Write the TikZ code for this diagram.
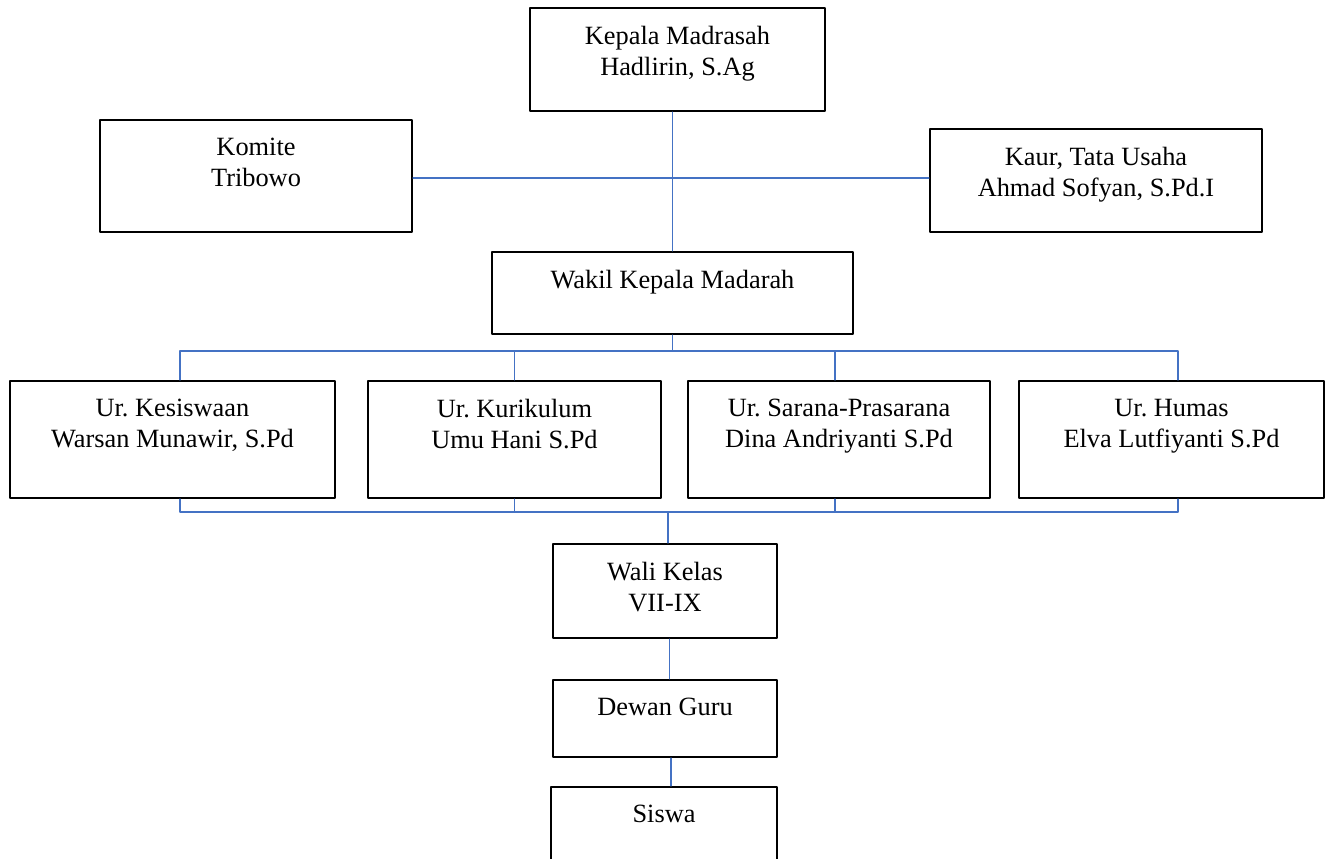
\documentclass[tikz,border=0pt]{standalone}
\usepackage{fontspec}
\setmainfont{Liberation Serif}
\frenchspacing
\definecolor{garisbiru}{RGB}{68,114,196}

\begin{document}
\begin{tikzpicture}[line cap=round,line join=round,x=1.0cm,y=1.0cm,
	kotak/.style={draw=black,line width=1.3pt,inner sep=0pt},
	isi/.style={label={[anchor=north,align=center,inner sep=0pt,yshift=-0.375cm,font=\fontsize{15pt}{17.6pt}\selectfont]north:{#1}}},
	garis/.style={draw=garisbiru,line width=0.8pt}]
		\useasboundingbox (0,0) rectangle (26.64,-17.16);
		% pimpinan
		\node[kotak,minimum width=5.9cm,minimum height=2.06cm,isi={Kepala Madrasah\\Hadlirin, S.Ag}] (kepala) at (13.55,-1.19) {};
		\node[kotak,minimum width=6.24cm,minimum height=2.24cm,isi={Komite\\Tribowo}] (komite) at (5.12,-3.52) {};
		\node[kotak,minimum width=6.64cm,minimum height=2.06cm,isi={Kaur, Tata Usaha\\Ahmad Sofyan, S.Pd.I}] (kaur) at (21.92,-3.61) {};
		\node[kotak,minimum width=7.22cm,minimum height=1.64cm,isi={Wakil Kepala Madarah}] (wakil) at (13.45,-5.86) {};
		% urusan
		\node[kotak,minimum width=6.5cm,minimum height=2.34cm,isi={Ur. Kesiswaan\\Warsan Munawir, S.Pd}] (kesiswaan) at (3.45,-8.79) {};
		\node[kotak,minimum width=5.86cm,minimum height=2.34cm,isi={Ur. Kurikulum\\Umu Hani S.Pd}] (kurikulum) at (10.29,-8.79) {};
		\node[kotak,minimum width=6.04cm,minimum height=2.34cm,isi={Ur. Sarana-Prasarana\\Dina Andriyanti S.Pd}] (sarana) at (16.78,-8.79) {};
		\node[kotak,minimum width=6.1cm,minimum height=2.34cm,isi={Ur. Humas\\Elva Lutfiyanti S.Pd}] (humas) at (23.43,-8.79) {};
		% bawah
		\node[kotak,minimum width=4.48cm,minimum height=1.88cm,isi={Wali Kelas\\VII-IX}] (wali) at (13.3,-11.82) {};
		\node[kotak,minimum width=4.48cm,minimum height=1.54cm,isi={Dewan Guru}] (dewan) at (13.3,-14.37) {};
		\node[kotak,minimum width=4.52cm,minimum height=1.7cm,isi={Siswa}] (siswa) at (13.28,-16.59) {};
		\coordinate (busatas) at (13.45,-7.02);
		\coordinate (busbawah) at (13.36,-10.24);
		% garis
		\draw[garis] (kepala.south -| wakil.north) -- (wakil.north);
		\draw[garis] ([yshift=-0.04cm]komite.east) -- ([yshift=-0.04cm]kaur.west |- komite.east);
		\draw[garis] (wakil.south) -- (busatas);
		\draw[garis] ([xshift=0.15cm]kesiswaan.north) |- ([xshift=0.13cm]humas.north |- busatas) -- ([xshift=0.13cm]humas.north);
		\draw[garis] (kurikulum.north) -- (kurikulum.north |- busatas);
		\draw[garis] ([xshift=-0.08cm]sarana.north) -- ([xshift=-0.08cm]sarana.north |- busatas);
		\draw[garis] ([xshift=0.15cm]kesiswaan.south) |- ([xshift=0.13cm]humas.south |- busbawah) -- ([xshift=0.13cm]humas.south);
		\draw[garis] (kurikulum.south) -- (kurikulum.south |- busbawah);
		\draw[garis] ([xshift=-0.08cm]sarana.south) -- ([xshift=-0.08cm]sarana.south |- busbawah);
		\draw[garis] (busbawah) -- (busbawah |- wali.north);
		\draw[garis] ([xshift=0.09cm]wali.south) -- ([xshift=0.09cm]dewan.north);
		\draw[garis] ([xshift=0.12cm]dewan.south) -- ([xshift=0.14cm]siswa.north);
\end{tikzpicture}
\end{document}
